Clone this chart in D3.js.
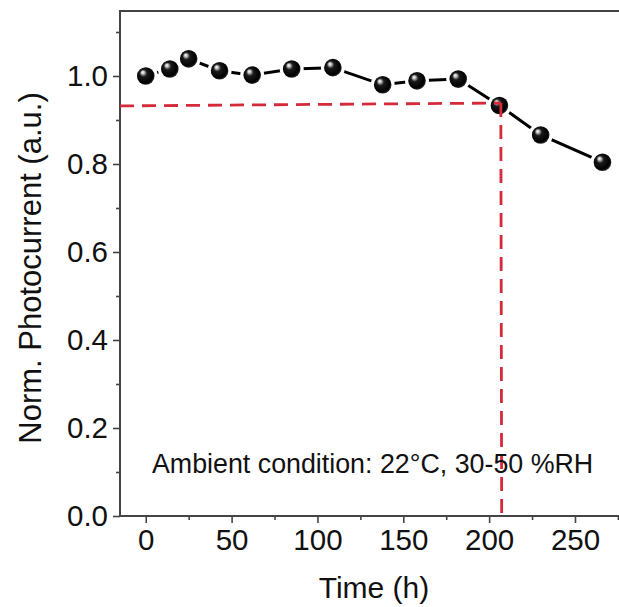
<!DOCTYPE html>
<html><head><meta charset="utf-8">
<script src="https://cdn.jsdelivr.net/npm/d3@7"></script>
<style>
body{margin:0;background:#fff;}
svg{display:block;font-family:"Liberation Sans",Arial,sans-serif;}
</style></head>
<body>
<svg id="chart" width="619" height="607"></svg>
<script>
const times = [0, 14, 25, 43, 62, 85, 109, 138, 158, 182, 206, 230, 266];
const values = [1.000, 1.016, 1.039, 1.012, 1.002, 1.016, 1.019, 0.980, 0.989, 0.993, 0.933, 0.866, 0.804];
const xMajorTicks = [0, 50, 100, 150, 200, 250];
const xMinorTicks = [25, 75, 125, 175, 225, 275];
const yMajorTicks = [0.0, 0.2, 0.4, 0.6, 0.8, 1.0];
const yMinorTicks = [0.1, 0.3, 0.5, 0.7, 0.9, 1.1];
const guideH = [[-15, 0.932], [206.8, 0.9386]];
const guideV = [[206.8, 0.9386], [207.3, 0.0]];
const xTitle = "Time (h)";
const yTitle = "Norm.  Photocurrent (a.u.)";
const note = "Ambient condition: 22°C, 30-50 %RH";

const svg = d3.select("#chart");
const L = 120, T = 11, B = 516, R = 626.5;
const x = d3.scaleLinear().domain([-15, 280]).range([L, R]);
const y = d3.scaleLinear().domain([0, 1.15]).range([B, B - 1.15 * 440]);

const defs = svg.append("defs");
const g = defs.append("radialGradient").attr("id", "ball")
  .attr("cx", "45%").attr("cy", "45%").attr("r", "60%")
  .attr("fx", "32%").attr("fy", "28%");
g.append("stop").attr("offset", "0%").attr("stop-color", "#ffffff");
g.append("stop").attr("offset", "12%").attr("stop-color", "#cfcfcf");
g.append("stop").attr("offset", "35%").attr("stop-color", "#1a1a1a");
g.append("stop").attr("offset", "80%").attr("stop-color", "#000000");
g.append("stop").attr("offset", "100%").attr("stop-color", "#3a3a3a");

// axes
const fontSize = 29.5;
svg.append("g").attr("transform", `translate(0,${B})`)
  .call(d3.axisBottom(x).tickValues(xMajorTicks).tickSize(7).tickSizeOuter(0).tickPadding(6).tickFormat(d3.format("d")));
svg.append("g").attr("transform", `translate(0,${B})`)
  .call(d3.axisBottom(x).tickValues(xMinorTicks).tickSize(4).tickSizeOuter(0).tickFormat(""));
svg.append("g").attr("transform", `translate(${L},0)`)
  .call(d3.axisLeft(y).tickValues(yMajorTicks).tickSize(7).tickSizeOuter(0).tickPadding(5).tickFormat(d3.format(".1f")));
svg.append("g").attr("transform", `translate(${L},0)`)
  .call(d3.axisLeft(y).tickValues(yMinorTicks).tickSize(4).tickSizeOuter(0).tickFormat(""));
svg.selectAll(".domain").remove();
svg.selectAll(".tick line").attr("stroke", "#444").attr("stroke-width", 1.6);
svg.selectAll(".tick text").attr("font-size", fontSize).attr("fill", "#111")
  .attr("font-family", "'Liberation Sans', Arial, sans-serif");

// frame
svg.append("rect").attr("x", L).attr("y", T).attr("width", R - L).attr("height", B - T)
  .attr("fill", "none").attr("stroke", "#444").attr("stroke-width", 2);

// line
const pts = times.map((t, i) => [t, values[i]]);
svg.append("path").datum(pts)
  .attr("d", d3.line().x(d => x(d[0])).y(d => y(d[1])))
  .attr("fill", "none").attr("stroke", "#000").attr("stroke-width", 3);

// balls
svg.append("g").selectAll("circle").data(pts).join("circle")
  .attr("cx", d => x(d[0])).attr("cy", d => y(d[1])).attr("r", 12).attr("fill", "#fff");
svg.append("g").selectAll("circle").data(pts).join("circle")
  .attr("cx", d => x(d[0])).attr("cy", d => y(d[1])).attr("r", 8.8).attr("fill", "url(#ball)");

// guides
const gl = d3.line().x(d => x(d[0])).y(d => y(d[1]));
[guideH, guideV].forEach(seg => {
  svg.append("path").datum(seg).attr("d", gl)
    .attr("fill", "none").attr("stroke", "#d42a3a").attr("stroke-width", 2.8)
    .attr("stroke-dasharray", "14 8");
});

// note
svg.append("text").attr("x", 152).attr("y", 473).attr("font-size", 26.8).attr("fill", "#111")
  .text(note);

// titles
svg.append("text").attr("x", 374).attr("y", 598).attr("text-anchor", "middle")
  .attr("font-size", 30).attr("fill", "#111").text(xTitle);
svg.append("text").attr("transform", "translate(41,268) rotate(-90)").attr("text-anchor", "middle")
  .attr("font-size", 31).attr("fill", "#111").text(yTitle);
</script>
</body></html>
